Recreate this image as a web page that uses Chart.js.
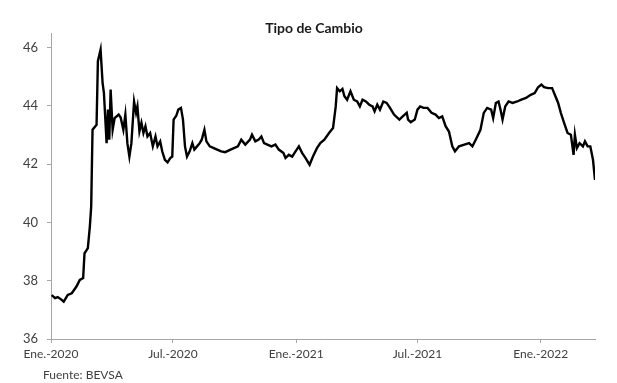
<!DOCTYPE html>
<html>
<head>
<meta charset="utf-8">
<script src="https://cdn.jsdelivr.net/npm/chart.js@4"></script>
<style>
  html, body { margin: 0; padding: 0; background: #fff; }
  #wrap { width: 617px; height: 383px; }
</style>
</head>
<body>
<div id="wrap"><canvas id="tcChart"></canvas></div>
<script>
// fechas y tipo de cambio
const fechas = [
  '2020-01-02','2020-01-07','2020-01-11','2020-01-16','2020-01-20','2020-01-26','2020-02-01','2020-02-08',
  '2020-02-13','2020-02-18','2020-02-20','2020-02-25','2020-02-28','2020-03-01','2020-03-03','2020-03-09',
  '2020-03-11','2020-03-15','2020-03-18','2020-03-20','2020-03-24','2020-03-26','2020-03-28','2020-03-30',
  '2020-04-02','2020-04-05','2020-04-11','2020-04-14','2020-04-18','2020-04-21','2020-04-24','2020-04-27',
  '2020-04-30','2020-05-04','2020-05-07','2020-05-09','2020-05-12','2020-05-15','2020-05-18','2020-05-21',
  '2020-05-24','2020-05-28','2020-06-01','2020-06-05','2020-06-08','2020-06-12','2020-06-15','2020-06-19',
  '2020-06-23','2020-06-27','2020-06-30','2020-07-02','2020-07-06','2020-07-09','2020-07-13','2020-07-16',
  '2020-07-19','2020-07-22','2020-07-26','2020-07-30','2020-08-02','2020-08-06','2020-08-10','2020-08-13',
  '2020-08-17','2020-08-20','2020-08-25','2020-08-31','2020-09-05','2020-09-11','2020-09-17','2020-09-25',
  '2020-09-30','2020-10-06','2020-10-11','2020-10-17','2020-10-24','2020-10-27','2020-11-01','2020-11-06',
  '2020-11-10','2020-11-14','2020-11-19','2020-11-25','2020-12-01','2020-12-06','2020-12-13','2020-12-16',
  '2020-12-21','2020-12-26','2020-12-31','2021-01-05','2021-01-10','2021-01-15','2021-01-21','2021-01-26',
  '2021-02-01','2021-02-06','2021-02-12','2021-02-19','2021-02-25','2021-03-01','2021-03-03','2021-03-07',
  '2021-03-11','2021-03-14','2021-03-18','2021-03-23','2021-03-28','2021-04-02','2021-04-06','2021-04-10',
  '2021-04-15','2021-04-20','2021-04-25','2021-04-28','2021-05-02','2021-05-06','2021-05-11','2021-05-16',
  '2021-05-21','2021-05-27','2021-06-04','2021-06-09','2021-06-15','2021-06-17','2021-06-21','2021-06-27',
  '2021-07-01','2021-07-05','2021-07-10','2021-07-16','2021-07-22','2021-07-28','2021-08-02','2021-08-07',
  '2021-08-12','2021-08-17','2021-08-22','2021-08-26','2021-09-01','2021-09-09','2021-09-16','2021-09-21',
  '2021-09-26','2021-10-03','2021-10-08','2021-10-13','2021-10-19','2021-10-22','2021-10-26','2021-10-30',
  '2021-11-02','2021-11-05','2021-11-09','2021-11-14','2021-11-20','2021-11-27','2021-12-03','2021-12-10',
  '2021-12-17','2021-12-23','2021-12-28','2022-01-02','2022-01-06','2022-01-12','2022-01-18','2022-01-22',
  '2022-01-27','2022-01-31','2022-02-05','2022-02-10','2022-02-15','2022-02-19','2022-02-21','2022-02-24',
  '2022-02-28','2022-03-05','2022-03-08','2022-03-12','2022-03-16','2022-03-20','2022-03-23'
];
const tipoCambio = [
  37.51, 37.40, 37.44, 37.36, 37.28, 37.51, 37.57, 37.80,
  38.03, 38.09, 38.94, 39.12, 39.86, 40.55, 43.18, 43.35,
  45.53, 45.93, 44.79, 44.44, 42.72, 43.87, 42.84, 44.56,
  43.18, 43.58, 43.70, 43.60, 43.18, 43.70, 42.72, 42.26,
  42.72, 44.15, 43.76, 43.98, 43.12, 43.42, 43.07, 43.30,
  42.95, 43.07, 42.61, 42.95, 42.61, 42.78, 42.44, 42.15,
  42.06, 42.21, 42.26, 43.53, 43.66, 43.87, 43.93, 43.53,
  42.61, 42.26, 42.44, 42.72, 42.50, 42.61, 42.72, 42.84,
  43.18, 42.78, 42.61, 42.55, 42.50, 42.44, 42.41, 42.50,
  42.55, 42.61, 42.84, 42.67, 42.84, 43.01, 42.78, 42.84,
  42.95, 42.72, 42.67, 42.61, 42.67, 42.50, 42.38, 42.21,
  42.32, 42.26, 42.44, 42.61, 42.38, 42.21, 41.98, 42.26,
  42.55, 42.72, 42.84, 43.07, 43.24, 43.98, 44.61, 44.50,
  44.58, 44.33, 44.21, 44.50, 44.21, 44.15, 43.98, 44.21,
  44.15, 44.04, 43.98, 43.81, 44.04, 43.87, 44.15, 44.10,
  43.93, 43.70, 43.53, 43.64, 43.76, 43.53, 43.44, 43.53,
  43.87, 43.98, 43.93, 43.93, 43.76, 43.70, 43.58, 43.64,
  43.30, 43.12, 42.61, 42.44, 42.61, 42.67, 42.72, 42.61,
  42.84, 43.18, 43.76, 43.93, 43.87, 43.58, 44.10, 44.15,
  43.87, 43.53, 43.98, 44.15, 44.10, 44.15, 44.21, 44.27,
  44.38, 44.44, 44.64, 44.73, 44.64, 44.61, 44.61, 44.38,
  44.10, 43.76, 43.41, 43.07, 43.01, 42.32, 43.01, 42.55,
  42.72, 42.61, 42.78, 42.61, 42.61, 42.15, 41.46
];

const tickFechas = ['2020-01-01', '2020-07-01', '2021-01-01', '2021-07-01', '2022-01-01'];
const tickLabels = ['Ene.-2020', 'Jul.-2020', 'Ene.-2021', 'Jul.-2021', 'Ene.-2022'];
const yTicks = [36, 38, 40, 42, 44, 46];

const t0 = Date.UTC(2020, 0, 1);
function diaDe(s) {
    const p = s.split('-').map(Number);
    return (Date.UTC(p[0], p[1] - 1, p[2]) - t0) / 864e5;
}

const puntos = fechas.map((f, i) => ({ x: diaDe(f), y: tipoCambio[i] }));
const tickDias = tickFechas.map(diaDe);

const axisGray = '#a6a6a6';
const textGray = '#404040';

// titulo y fuente
const textos = {
    id: 'textos',
    afterDraw(chart) {
        const ctx = chart.ctx;
        ctx.save();
        ctx.fillStyle = '#1a1a1a';
        ctx.font = 'bold 14px Lato';
        ctx.textAlign = 'center';
        ctx.textBaseline = 'middle';
        ctx.fillText('Tipo de Cambio', 314, 28);
        ctx.fillStyle = textGray;
        ctx.font = '12px Lato';
        ctx.textAlign = 'left';
        ctx.fillText('Fuente: BEVSA', 43, 375);
        ctx.restore();
    }
};

new Chart(document.getElementById('tcChart'), {
    type: 'line',
    data: {
        datasets: [{
            label: 'Tipo de Cambio',
            data: puntos,
            borderColor: '#000',
            borderWidth: 2.4,
            pointRadius: 0,
            tension: 0,
            fill: false
        }]
    },
    options: {
        responsive: true,
        maintainAspectRatio: false,
        animation: false,
        layout: { padding: { top: 33, right: 22, left: 0, bottom: 0 } },
        plugins: {
            legend: { display: false },
            tooltip: { enabled: false }
        },
        scales: {
            x: {
                type: 'linear',
                min: 0,
                max: puntos[puntos.length - 1].x,
                afterBuildTicks(s) { s.ticks = tickDias.map(v => ({ value: v })); },
                afterFit(s) { s.height = 44; },
                ticks: {
                    autoSkip: false,
                    maxRotation: 0,
                    padding: 4,
                    color: textGray,
                    font: { family: 'Lato', size: 12 },
                    callback(v) {
                        const i = tickDias.indexOf(v);
                        return i >= 0 ? tickLabels[i] : '';
                    }
                },
                grid: { drawOnChartArea: false, tickLength: 4, color: axisGray },
                border: { color: axisGray, width: 1 }
            },
            y: {
                min: 36,
                max: 46.5,
                afterBuildTicks(s) { s.ticks = yTicks.map(v => ({ value: v })); },
                afterFit(s) { s.width = 51; },
                ticks: {
                    padding: 9,
                    color: textGray,
                    font: { family: 'Lato', size: 13 }
                },
                grid: { drawOnChartArea: false, tickLength: 4, color: axisGray },
                border: { color: axisGray, width: 1 }
            }
        }
    },
    plugins: [textos]
});
</script>
</body>
</html>
